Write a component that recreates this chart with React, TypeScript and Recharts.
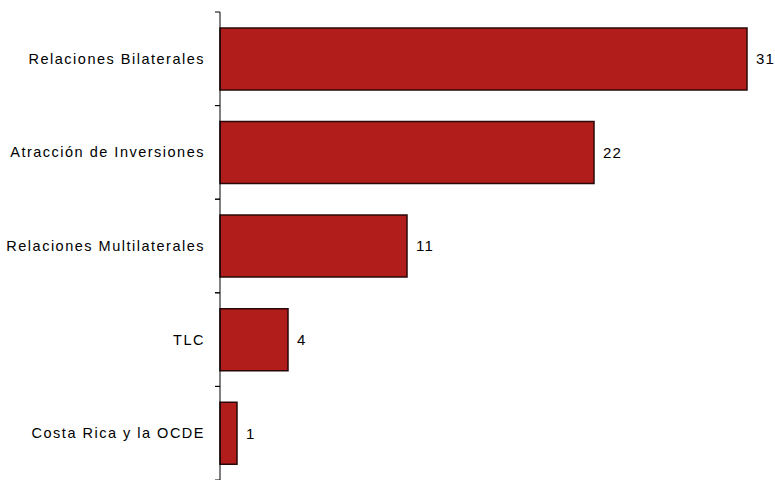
import { BarChart, Bar, XAxis, YAxis, LabelList } from "recharts";

const categories = [
  "Relaciones Bilaterales",
  "Atracción de Inversiones",
  "Relaciones Multilaterales",
  "TLC",
  "Costa Rica y la OCDE",
];
const counts = [31, 22, 11, 4, 1];

const data = categories.map((name, i) => ({ name, value: counts[i] }));

const W = 775;
const H = 480;
const TOP = 12;
const BOTTOM = 0;
const band = (H - TOP - BOTTOM) / categories.length;
const FONT = "Liberation Sans, Arial, sans-serif";

const CategoryTick = (props: any) => {
  const { x, y, payload } = props;
  const ax = x + 15;
  return (
    <g>
      <line x1={ax - 5} x2={ax} y1={y - band / 2} y2={y - band / 2} stroke="#000" />
      <line x1={ax - 5} x2={ax} y1={y + band / 2} y2={y + band / 2} stroke="#000" />
      <text
        x={x}
        y={y}
        dy={5}
        textAnchor="end"
        fontSize={14.5}
        letterSpacing={1.5}
        fill="#000"
        fontFamily={FONT}
      >
        {payload.value}
      </text>
    </g>
  );
};

export default function App() {
  return (
    <div style={{ position: "fixed", left: 0, top: 0, background: "#fff" }}>
      <BarChart
        width={W}
        height={H}
        data={data}
        layout="vertical"
        barCategoryGap="17%"
        margin={{ top: TOP, right: 11, left: 0, bottom: BOTTOM }}
      >
        <XAxis type="number" domain={[0, 32]} hide />
        <YAxis
          type="category"
          dataKey="name"
          width={220}
          axisLine={{ stroke: "#000" }}
          tickLine={false}
          tickSize={5}
          tickMargin={10}
          tick={<CategoryTick />}
        />
        <Bar
          dataKey="value"
          fill="#B11D1A"
          stroke="#2a0808"
          strokeWidth={1.5}
          isAnimationActive={false}
        >
          <LabelList
            dataKey="value"
            position="right"
            offset={9}
            fill="#000"
            fontSize={15}
            letterSpacing={1.2}
            fontFamily={FONT}
          />
        </Bar>
      </BarChart>
    </div>
  );
}
